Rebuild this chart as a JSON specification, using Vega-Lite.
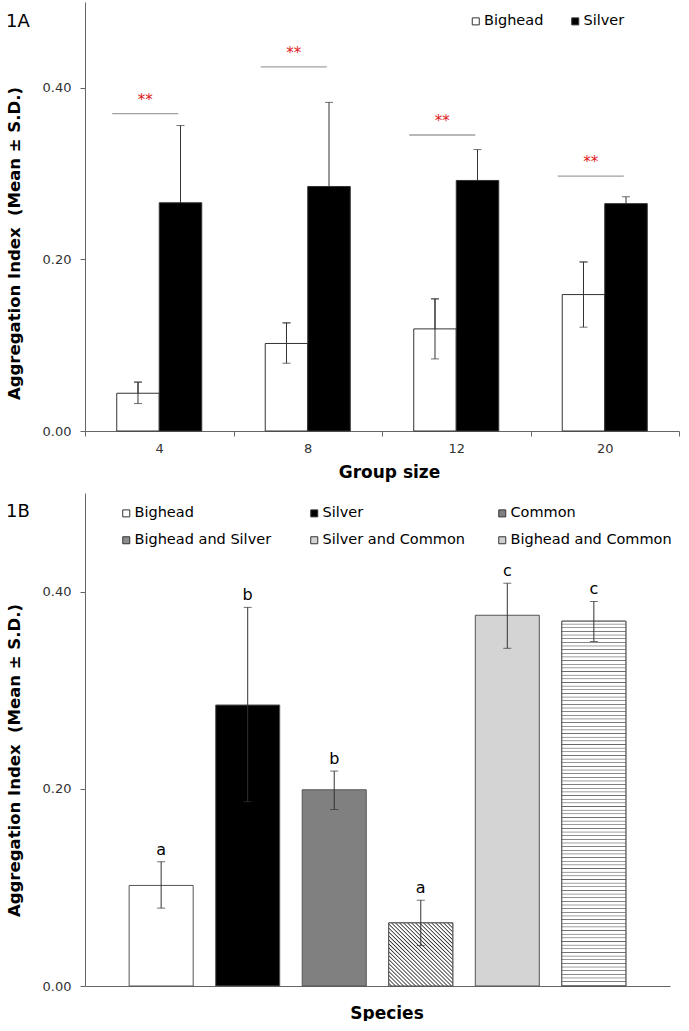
{
"$schema":"https://vega.github.io/schema/vega-lite/v6.json",
"background":"white",
"padding":{"left":6,"top":2,"right":0,"bottom":0},
"config":{"view":{"stroke":null},"font":"DejaVu Sans",
 "axis":{"grid":false,"labelFont":"DejaVu Sans","labelFontSize":13,"labelColor":"#333","titleFont":"DejaVu Sans","titleFontWeight":"bold","titleColor":"#000","domainColor":"#666","tickColor":"#666","domainWidth":1,"tickWidth":1},
 "legend":{"labelFont":"DejaVu Sans","labelFontSize":14.5,"labelColor":"#000","labelLimit":300,"symbolType":"square","symbolSize":49,"symbolStrokeColor":"#333","symbolStrokeWidth":1,"labelOffset":1,"padding":0},
 "title":{"font":"DejaVu Sans","fontWeight":"normal","color":"#000","fontSize":18}},
"datasets":{
 "groups":[
  {"group":4,"species":"Bighead","mean":0.044,"lo":0.032,"hi":0.057},
  {"group":4,"species":"Silver","mean":0.266,"lo":0.176,"hi":0.356},
  {"group":8,"species":"Bighead","mean":0.102,"lo":0.079,"hi":0.126},
  {"group":8,"species":"Silver","mean":0.285,"lo":0.187,"hi":0.383},
  {"group":12,"species":"Bighead","mean":0.119,"lo":0.084,"hi":0.154},
  {"group":12,"species":"Silver","mean":0.292,"lo":0.256,"hi":0.328},
  {"group":20,"species":"Bighead","mean":0.159,"lo":0.121,"hi":0.197},
  {"group":20,"species":"Silver","mean":0.265,"lo":0.257,"hi":0.273}
 ],
 "sig":[
  {"group":4,"y":0.370,"label":"**"},
  {"group":8,"y":0.4245,"label":"**"},
  {"group":12,"y":0.345,"label":"**"},
  {"group":20,"y":0.297,"label":"**"}
 ],
 "species":[
  {"species":"Bighead","mean":0.102,"lo":0.079,"hi":0.126,"letter":"a"},
  {"species":"Silver","mean":0.285,"lo":0.187,"hi":0.384,"letter":"b"},
  {"species":"Common","mean":0.199,"lo":0.179,"hi":0.218,"letter":"b"},
  {"species":"Bighead and Silver","mean":0.064,"lo":0.041,"hi":0.087,"letter":"a"},
  {"species":"Silver and Common","mean":0.376,"lo":0.3425,"hi":0.4085,"letter":"c"},
  {"species":"Bighead and Common","mean":0.370,"lo":0.3495,"hi":0.390,"letter":"c"}
 ]
},
"concat":[
 {
  "width":594,"height":429,
  "title":{"text":"1A","anchor":"start","frame":"bounds","offset":-43,"baseline":"alphabetic"},
  "encoding":{
   "x":{"field":"group","type":"ordinal","scale":{"domain":[4,8,12,20],"paddingInner":0,"paddingOuter":0},
    "axis":{"title":"Group size","labelAngle":0,"tickBand":"extent","tickSize":5,"labelPadding":6,"titlePadding":9,"titleFontSize":17,"titleX":304}}
  },
  "layer":[
   {"data":{"name":"groups"},"mark":{"type":"rule","color":"#333","strokeWidth":1},
    "encoding":{
     "xOffset":{"field":"species","type":"nominal","scale":{"domain":["Bighead","Silver"],"paddingInner":0,"paddingOuter":0.747}},
     "y":{"field":"lo","type":"quantitative","scale":{"domain":[0,0.5],"nice":false},
      "axis":{"title":"Aggregation Index \u00a0(Mean ± S.D.)","values":[0,0.2,0.4],"format":".2f","tickSize":5,"labelPadding":9,"titlePadding":20,"titleFontSize":16.5,"titleY":241}},
     "y2":{"field":"hi"}}},
   {"data":{"name":"groups"},"mark":{"type":"tick","orient":"horizontal","color":"#333","size":8,"thickness":1},
    "encoding":{
     "xOffset":{"field":"species","type":"nominal","scale":{"domain":["Bighead","Silver"],"paddingInner":0,"paddingOuter":0.747}},
     "y":{"field":"hi","type":"quantitative","scale":{"domain":[0,0.5],"nice":false},
      "axis":{"title":"Aggregation Index \u00a0(Mean ± S.D.)","values":[0,0.2,0.4],"format":".2f","tickSize":5,"labelPadding":9,"titlePadding":20,"titleFontSize":16.5,"titleY":241}}}},
   {"data":{"name":"groups"},"mark":{"type":"bar","stroke":"#333","strokeWidth":1},
    "encoding":{
     "xOffset":{"field":"species","type":"nominal","scale":{"domain":["Bighead","Silver"],"paddingInner":0,"paddingOuter":0.747}},
     "y":{"field":"mean","type":"quantitative","scale":{"domain":[0,0.5],"nice":false},
      "axis":{"title":"Aggregation Index \u00a0(Mean ± S.D.)","values":[0,0.2,0.4],"format":".2f","tickSize":5,"labelPadding":9,"titlePadding":20,"titleFontSize":16.5,"titleY":241}},
     "fill":{"field":"species","type":"nominal","scale":{"domain":["Bighead","Silver"],"range":["#ffffff","#000000"]},
      "legend":{"title":null,"orient":"none","legendX":383.5,"legendY":12,"direction":"horizontal","columns":2,"columnPadding":24.5}}}},
   {"data":{"name":"groups"},"transform":[{"filter":"datum.species === 'Bighead'"}],"mark":{"type":"rule","color":"#333","strokeWidth":1},
    "encoding":{
     "xOffset":{"field":"species","type":"nominal","scale":{"domain":["Bighead","Silver"],"paddingInner":0,"paddingOuter":0.747}},
     "y":{"field":"lo","type":"quantitative","scale":{"domain":[0,0.5],"nice":false},
      "axis":{"title":"Aggregation Index \u00a0(Mean ± S.D.)","values":[0,0.2,0.4],"format":".2f","tickSize":5,"labelPadding":9,"titlePadding":20,"titleFontSize":16.5,"titleY":241}},
     "y2":{"field":"hi"}}},
   {"data":{"name":"groups"},"transform":[{"filter":"datum.species === 'Bighead'"}],"mark":{"type":"tick","orient":"horizontal","color":"#333","size":8,"thickness":1},
    "encoding":{
     "xOffset":{"field":"species","type":"nominal","scale":{"domain":["Bighead","Silver"],"paddingInner":0,"paddingOuter":0.747}},
     "y":{"field":"hi","type":"quantitative","scale":{"domain":[0,0.5],"nice":false},
      "axis":{"title":"Aggregation Index \u00a0(Mean ± S.D.)","values":[0,0.2,0.4],"format":".2f","tickSize":5,"labelPadding":9,"titlePadding":20,"titleFontSize":16.5,"titleY":241}}}},
   {"data":{"name":"groups"},"transform":[{"filter":"datum.species === 'Bighead'"}],"mark":{"type":"tick","orient":"horizontal","color":"#333","size":8,"thickness":1},
    "encoding":{
     "xOffset":{"field":"species","type":"nominal","scale":{"domain":["Bighead","Silver"],"paddingInner":0,"paddingOuter":0.747}},
     "y":{"field":"lo","type":"quantitative","scale":{"domain":[0,0.5],"nice":false},
      "axis":{"title":"Aggregation Index \u00a0(Mean ± S.D.)","values":[0,0.2,0.4],"format":".2f","tickSize":5,"labelPadding":9,"titlePadding":20,"titleFontSize":16.5,"titleY":241}}}},
   {"data":{"name":"sig"},"mark":{"type":"tick","orient":"horizontal","size":66,"thickness":1.3,"color":"#777","xOffset":-14},
    "encoding":{
     "y":{"field":"y","type":"quantitative","scale":{"domain":[0,0.5],"nice":false},
      "axis":{"title":"Aggregation Index \u00a0(Mean ± S.D.)","values":[0,0.2,0.4],"format":".2f","tickSize":5,"labelPadding":9,"titlePadding":20,"titleFontSize":16.5,"titleY":241}}}},
   {"data":{"name":"sig"},"mark":{"type":"text","color":"#e02020","fontSize":15,"baseline":"alphabetic","dy":-9,"xOffset":-14},
    "encoding":{
     "y":{"field":"y","type":"quantitative","scale":{"domain":[0,0.5],"nice":false},
      "axis":{"title":"Aggregation Index \u00a0(Mean ± S.D.)","values":[0,0.2,0.4],"format":".2f","tickSize":5,"labelPadding":9,"titlePadding":20,"titleFontSize":16.5,"titleY":241}},
     "text":{"field":"label"}}}
  ]
 },
 {
  "width":585,"height":493,
  "title":{"text":"1B","anchor":"start","frame":"bounds","offset":-42,"baseline":"alphabetic"},
  "encoding":{
   "x":{"field":"species","type":"nominal","scale":{"domain":["Bighead","Silver","Common","Bighead and Silver","Silver and Common","Bighead and Common"],"paddingInner":0.26,"paddingOuter":0.51},
    "axis":{"title":"Species","labels":false,"ticks":false,"titleFontSize":17,"titlePadding":19,"titleX":301.5}}
  },
  "layer":[
   {"data":{"name":"species"},"mark":{"type":"bar","stroke":"#555","strokeWidth":1},
    "encoding":{
     "y":{"field":"mean","type":"quantitative","scale":{"domain":[0,0.5],"nice":false},
      "axis":{"title":"Aggregation Index \u00a0(Mean ± S.D.)","values":[0,0.2,0.4],"format":".2f","tickSize":5,"labelPadding":9,"titlePadding":20,"titleFontSize":16.5,"titleY":267}},
     "fill":{"field":"species","type":"nominal","scale":{"domain":["Bighead","Silver","Common","Bighead and Silver","Silver and Common","Bighead and Common"],"range":["#ffffff","#000000","#808080","#8c8c8c","#d4d4d4","#d0d0d0"]},
      "legend":{"title":null,"orient":"none","legendX":34,"legendY":13,"direction":"horizontal","columns":3,"gridAlign":"all","columnPadding":11,"rowPadding":12}}}},
   {"data":{"name":"species"},"transform":[{"filter":"datum.species === 'Bighead and Silver'"}],
    "mark":{"type":"bar","stroke":"#555","strokeWidth":1,"fill":{"gradient":"linear","x1":0,"y1":1,"x2":1,"y2":0,"stops":[
{"offset":0,"color":"#fff"},
{"offset":0.0125,"color":"#fff"},{"offset":0.022,"color":"#333"},{"offset":0.03125,"color":"#fff"},
{"offset":0.04375,"color":"#fff"},{"offset":0.05325,"color":"#333"},{"offset":0.0625,"color":"#fff"},
{"offset":0.075,"color":"#fff"},{"offset":0.0845,"color":"#333"},{"offset":0.09375,"color":"#fff"},
{"offset":0.10625,"color":"#fff"},{"offset":0.11575,"color":"#333"},{"offset":0.125,"color":"#fff"},
{"offset":0.1375,"color":"#fff"},{"offset":0.147,"color":"#333"},{"offset":0.15625,"color":"#fff"},
{"offset":0.16875,"color":"#fff"},{"offset":0.17825,"color":"#333"},{"offset":0.1875,"color":"#fff"},
{"offset":0.2,"color":"#fff"},{"offset":0.2095,"color":"#333"},{"offset":0.21875,"color":"#fff"},
{"offset":0.23125,"color":"#fff"},{"offset":0.24075,"color":"#333"},{"offset":0.25,"color":"#fff"},
{"offset":0.2625,"color":"#fff"},{"offset":0.272,"color":"#333"},{"offset":0.28125,"color":"#fff"},
{"offset":0.29375,"color":"#fff"},{"offset":0.30325,"color":"#333"},{"offset":0.3125,"color":"#fff"},
{"offset":0.325,"color":"#fff"},{"offset":0.3345,"color":"#333"},{"offset":0.34375,"color":"#fff"},
{"offset":0.35625,"color":"#fff"},{"offset":0.36575,"color":"#333"},{"offset":0.375,"color":"#fff"},
{"offset":0.3875,"color":"#fff"},{"offset":0.397,"color":"#333"},{"offset":0.40625,"color":"#fff"},
{"offset":0.41875,"color":"#fff"},{"offset":0.42825,"color":"#333"},{"offset":0.4375,"color":"#fff"},
{"offset":0.45,"color":"#fff"},{"offset":0.4595,"color":"#333"},{"offset":0.46875,"color":"#fff"},
{"offset":0.48125,"color":"#fff"},{"offset":0.49075,"color":"#333"},{"offset":0.5,"color":"#fff"},
{"offset":0.5125,"color":"#fff"},{"offset":0.522,"color":"#333"},{"offset":0.53125,"color":"#fff"},
{"offset":0.54375,"color":"#fff"},{"offset":0.55325,"color":"#333"},{"offset":0.5625,"color":"#fff"},
{"offset":0.575,"color":"#fff"},{"offset":0.5845,"color":"#333"},{"offset":0.59375,"color":"#fff"},
{"offset":0.60625,"color":"#fff"},{"offset":0.61575,"color":"#333"},{"offset":0.625,"color":"#fff"},
{"offset":0.6375,"color":"#fff"},{"offset":0.647,"color":"#333"},{"offset":0.65625,"color":"#fff"},
{"offset":0.66875,"color":"#fff"},{"offset":0.67825,"color":"#333"},{"offset":0.6875,"color":"#fff"},
{"offset":0.7,"color":"#fff"},{"offset":0.7095,"color":"#333"},{"offset":0.71875,"color":"#fff"},
{"offset":0.73125,"color":"#fff"},{"offset":0.74075,"color":"#333"},{"offset":0.75,"color":"#fff"},
{"offset":0.7625,"color":"#fff"},{"offset":0.772,"color":"#333"},{"offset":0.78125,"color":"#fff"},
{"offset":0.79375,"color":"#fff"},{"offset":0.80325,"color":"#333"},{"offset":0.8125,"color":"#fff"},
{"offset":0.825,"color":"#fff"},{"offset":0.8345,"color":"#333"},{"offset":0.84375,"color":"#fff"},
{"offset":0.85625,"color":"#fff"},{"offset":0.86575,"color":"#333"},{"offset":0.875,"color":"#fff"},
{"offset":0.8875,"color":"#fff"},{"offset":0.897,"color":"#333"},{"offset":0.90625,"color":"#fff"},
{"offset":0.91875,"color":"#fff"},{"offset":0.92825,"color":"#333"},{"offset":0.9375,"color":"#fff"},
{"offset":0.95,"color":"#fff"},{"offset":0.9595,"color":"#333"},{"offset":0.96875,"color":"#fff"},
{"offset":0.98125,"color":"#fff"},{"offset":0.99075,"color":"#333"},{"offset":1,"color":"#fff"}
]}},
    "encoding":{
     "y":{"field":"mean","type":"quantitative","scale":{"domain":[0,0.5],"nice":false},
      "axis":{"title":"Aggregation Index \u00a0(Mean ± S.D.)","values":[0,0.2,0.4],"format":".2f","tickSize":5,"labelPadding":9,"titlePadding":20,"titleFontSize":16.5,"titleY":267}}}},
   {"data":{"name":"species"},"transform":[{"filter":"datum.species === 'Bighead and Common'"}],
    "mark":{"type":"bar","stroke":"#555","strokeWidth":1,"fill":{"gradient":"linear","x1":0,"y1":0,"x2":0,"y2":1,"stops":[
{"offset":0,"color":"#fff"},
{"offset":0.006,"color":"#fff"},{"offset":0.008,"color":"#666"},{"offset":0.01,"color":"#fff"},
{"offset":0.016,"color":"#fff"},{"offset":0.018,"color":"#666"},{"offset":0.02,"color":"#fff"},
{"offset":0.026,"color":"#fff"},{"offset":0.028,"color":"#666"},{"offset":0.03,"color":"#fff"},
{"offset":0.036,"color":"#fff"},{"offset":0.038,"color":"#666"},{"offset":0.04,"color":"#fff"},
{"offset":0.046,"color":"#fff"},{"offset":0.048,"color":"#666"},{"offset":0.05,"color":"#fff"},
{"offset":0.056,"color":"#fff"},{"offset":0.058,"color":"#666"},{"offset":0.06,"color":"#fff"},
{"offset":0.066,"color":"#fff"},{"offset":0.068,"color":"#666"},{"offset":0.07,"color":"#fff"},
{"offset":0.076,"color":"#fff"},{"offset":0.078,"color":"#666"},{"offset":0.08,"color":"#fff"},
{"offset":0.086,"color":"#fff"},{"offset":0.088,"color":"#666"},{"offset":0.09,"color":"#fff"},
{"offset":0.096,"color":"#fff"},{"offset":0.098,"color":"#666"},{"offset":0.1,"color":"#fff"},
{"offset":0.106,"color":"#fff"},{"offset":0.108,"color":"#666"},{"offset":0.11,"color":"#fff"},
{"offset":0.116,"color":"#fff"},{"offset":0.118,"color":"#666"},{"offset":0.12,"color":"#fff"},
{"offset":0.126,"color":"#fff"},{"offset":0.128,"color":"#666"},{"offset":0.13,"color":"#fff"},
{"offset":0.136,"color":"#fff"},{"offset":0.138,"color":"#666"},{"offset":0.14,"color":"#fff"},
{"offset":0.146,"color":"#fff"},{"offset":0.148,"color":"#666"},{"offset":0.15,"color":"#fff"},
{"offset":0.156,"color":"#fff"},{"offset":0.158,"color":"#666"},{"offset":0.16,"color":"#fff"},
{"offset":0.166,"color":"#fff"},{"offset":0.168,"color":"#666"},{"offset":0.17,"color":"#fff"},
{"offset":0.176,"color":"#fff"},{"offset":0.178,"color":"#666"},{"offset":0.18,"color":"#fff"},
{"offset":0.186,"color":"#fff"},{"offset":0.188,"color":"#666"},{"offset":0.19,"color":"#fff"},
{"offset":0.196,"color":"#fff"},{"offset":0.198,"color":"#666"},{"offset":0.2,"color":"#fff"},
{"offset":0.206,"color":"#fff"},{"offset":0.208,"color":"#666"},{"offset":0.21,"color":"#fff"},
{"offset":0.216,"color":"#fff"},{"offset":0.218,"color":"#666"},{"offset":0.22,"color":"#fff"},
{"offset":0.226,"color":"#fff"},{"offset":0.228,"color":"#666"},{"offset":0.23,"color":"#fff"},
{"offset":0.236,"color":"#fff"},{"offset":0.238,"color":"#666"},{"offset":0.24,"color":"#fff"},
{"offset":0.246,"color":"#fff"},{"offset":0.248,"color":"#666"},{"offset":0.25,"color":"#fff"},
{"offset":0.256,"color":"#fff"},{"offset":0.258,"color":"#666"},{"offset":0.26,"color":"#fff"},
{"offset":0.266,"color":"#fff"},{"offset":0.268,"color":"#666"},{"offset":0.27,"color":"#fff"},
{"offset":0.276,"color":"#fff"},{"offset":0.278,"color":"#666"},{"offset":0.28,"color":"#fff"},
{"offset":0.286,"color":"#fff"},{"offset":0.288,"color":"#666"},{"offset":0.29,"color":"#fff"},
{"offset":0.296,"color":"#fff"},{"offset":0.298,"color":"#666"},{"offset":0.3,"color":"#fff"},
{"offset":0.306,"color":"#fff"},{"offset":0.308,"color":"#666"},{"offset":0.31,"color":"#fff"},
{"offset":0.316,"color":"#fff"},{"offset":0.318,"color":"#666"},{"offset":0.32,"color":"#fff"},
{"offset":0.326,"color":"#fff"},{"offset":0.328,"color":"#666"},{"offset":0.33,"color":"#fff"},
{"offset":0.336,"color":"#fff"},{"offset":0.338,"color":"#666"},{"offset":0.34,"color":"#fff"},
{"offset":0.346,"color":"#fff"},{"offset":0.348,"color":"#666"},{"offset":0.35,"color":"#fff"},
{"offset":0.356,"color":"#fff"},{"offset":0.358,"color":"#666"},{"offset":0.36,"color":"#fff"},
{"offset":0.366,"color":"#fff"},{"offset":0.368,"color":"#666"},{"offset":0.37,"color":"#fff"},
{"offset":0.376,"color":"#fff"},{"offset":0.378,"color":"#666"},{"offset":0.38,"color":"#fff"},
{"offset":0.386,"color":"#fff"},{"offset":0.388,"color":"#666"},{"offset":0.39,"color":"#fff"},
{"offset":0.396,"color":"#fff"},{"offset":0.398,"color":"#666"},{"offset":0.4,"color":"#fff"},
{"offset":0.406,"color":"#fff"},{"offset":0.408,"color":"#666"},{"offset":0.41,"color":"#fff"},
{"offset":0.416,"color":"#fff"},{"offset":0.418,"color":"#666"},{"offset":0.42,"color":"#fff"},
{"offset":0.426,"color":"#fff"},{"offset":0.428,"color":"#666"},{"offset":0.43,"color":"#fff"},
{"offset":0.436,"color":"#fff"},{"offset":0.438,"color":"#666"},{"offset":0.44,"color":"#fff"},
{"offset":0.446,"color":"#fff"},{"offset":0.448,"color":"#666"},{"offset":0.45,"color":"#fff"},
{"offset":0.456,"color":"#fff"},{"offset":0.458,"color":"#666"},{"offset":0.46,"color":"#fff"},
{"offset":0.466,"color":"#fff"},{"offset":0.468,"color":"#666"},{"offset":0.47,"color":"#fff"},
{"offset":0.476,"color":"#fff"},{"offset":0.478,"color":"#666"},{"offset":0.48,"color":"#fff"},
{"offset":0.486,"color":"#fff"},{"offset":0.488,"color":"#666"},{"offset":0.49,"color":"#fff"},
{"offset":0.496,"color":"#fff"},{"offset":0.498,"color":"#666"},{"offset":0.5,"color":"#fff"},
{"offset":0.506,"color":"#fff"},{"offset":0.508,"color":"#666"},{"offset":0.51,"color":"#fff"},
{"offset":0.516,"color":"#fff"},{"offset":0.518,"color":"#666"},{"offset":0.52,"color":"#fff"},
{"offset":0.526,"color":"#fff"},{"offset":0.528,"color":"#666"},{"offset":0.53,"color":"#fff"},
{"offset":0.536,"color":"#fff"},{"offset":0.538,"color":"#666"},{"offset":0.54,"color":"#fff"},
{"offset":0.546,"color":"#fff"},{"offset":0.548,"color":"#666"},{"offset":0.55,"color":"#fff"},
{"offset":0.556,"color":"#fff"},{"offset":0.558,"color":"#666"},{"offset":0.56,"color":"#fff"},
{"offset":0.566,"color":"#fff"},{"offset":0.568,"color":"#666"},{"offset":0.57,"color":"#fff"},
{"offset":0.576,"color":"#fff"},{"offset":0.578,"color":"#666"},{"offset":0.58,"color":"#fff"},
{"offset":0.586,"color":"#fff"},{"offset":0.588,"color":"#666"},{"offset":0.59,"color":"#fff"},
{"offset":0.596,"color":"#fff"},{"offset":0.598,"color":"#666"},{"offset":0.6,"color":"#fff"},
{"offset":0.606,"color":"#fff"},{"offset":0.608,"color":"#666"},{"offset":0.61,"color":"#fff"},
{"offset":0.616,"color":"#fff"},{"offset":0.618,"color":"#666"},{"offset":0.62,"color":"#fff"},
{"offset":0.626,"color":"#fff"},{"offset":0.628,"color":"#666"},{"offset":0.63,"color":"#fff"},
{"offset":0.636,"color":"#fff"},{"offset":0.638,"color":"#666"},{"offset":0.64,"color":"#fff"},
{"offset":0.646,"color":"#fff"},{"offset":0.648,"color":"#666"},{"offset":0.65,"color":"#fff"},
{"offset":0.656,"color":"#fff"},{"offset":0.658,"color":"#666"},{"offset":0.66,"color":"#fff"},
{"offset":0.666,"color":"#fff"},{"offset":0.668,"color":"#666"},{"offset":0.67,"color":"#fff"},
{"offset":0.676,"color":"#fff"},{"offset":0.678,"color":"#666"},{"offset":0.68,"color":"#fff"},
{"offset":0.686,"color":"#fff"},{"offset":0.688,"color":"#666"},{"offset":0.69,"color":"#fff"},
{"offset":0.696,"color":"#fff"},{"offset":0.698,"color":"#666"},{"offset":0.7,"color":"#fff"},
{"offset":0.706,"color":"#fff"},{"offset":0.708,"color":"#666"},{"offset":0.71,"color":"#fff"},
{"offset":0.716,"color":"#fff"},{"offset":0.718,"color":"#666"},{"offset":0.72,"color":"#fff"},
{"offset":0.726,"color":"#fff"},{"offset":0.728,"color":"#666"},{"offset":0.73,"color":"#fff"},
{"offset":0.736,"color":"#fff"},{"offset":0.738,"color":"#666"},{"offset":0.74,"color":"#fff"},
{"offset":0.746,"color":"#fff"},{"offset":0.748,"color":"#666"},{"offset":0.75,"color":"#fff"},
{"offset":0.756,"color":"#fff"},{"offset":0.758,"color":"#666"},{"offset":0.76,"color":"#fff"},
{"offset":0.766,"color":"#fff"},{"offset":0.768,"color":"#666"},{"offset":0.77,"color":"#fff"},
{"offset":0.776,"color":"#fff"},{"offset":0.778,"color":"#666"},{"offset":0.78,"color":"#fff"},
{"offset":0.786,"color":"#fff"},{"offset":0.788,"color":"#666"},{"offset":0.79,"color":"#fff"},
{"offset":0.796,"color":"#fff"},{"offset":0.798,"color":"#666"},{"offset":0.8,"color":"#fff"},
{"offset":0.806,"color":"#fff"},{"offset":0.808,"color":"#666"},{"offset":0.81,"color":"#fff"},
{"offset":0.816,"color":"#fff"},{"offset":0.818,"color":"#666"},{"offset":0.82,"color":"#fff"},
{"offset":0.826,"color":"#fff"},{"offset":0.828,"color":"#666"},{"offset":0.83,"color":"#fff"},
{"offset":0.836,"color":"#fff"},{"offset":0.838,"color":"#666"},{"offset":0.84,"color":"#fff"},
{"offset":0.846,"color":"#fff"},{"offset":0.848,"color":"#666"},{"offset":0.85,"color":"#fff"},
{"offset":0.856,"color":"#fff"},{"offset":0.858,"color":"#666"},{"offset":0.86,"color":"#fff"},
{"offset":0.866,"color":"#fff"},{"offset":0.868,"color":"#666"},{"offset":0.87,"color":"#fff"},
{"offset":0.876,"color":"#fff"},{"offset":0.878,"color":"#666"},{"offset":0.88,"color":"#fff"},
{"offset":0.886,"color":"#fff"},{"offset":0.888,"color":"#666"},{"offset":0.89,"color":"#fff"},
{"offset":0.896,"color":"#fff"},{"offset":0.898,"color":"#666"},{"offset":0.9,"color":"#fff"},
{"offset":0.906,"color":"#fff"},{"offset":0.908,"color":"#666"},{"offset":0.91,"color":"#fff"},
{"offset":0.916,"color":"#fff"},{"offset":0.918,"color":"#666"},{"offset":0.92,"color":"#fff"},
{"offset":0.926,"color":"#fff"},{"offset":0.928,"color":"#666"},{"offset":0.93,"color":"#fff"},
{"offset":0.936,"color":"#fff"},{"offset":0.938,"color":"#666"},{"offset":0.94,"color":"#fff"},
{"offset":0.946,"color":"#fff"},{"offset":0.948,"color":"#666"},{"offset":0.95,"color":"#fff"},
{"offset":0.956,"color":"#fff"},{"offset":0.958,"color":"#666"},{"offset":0.96,"color":"#fff"},
{"offset":0.966,"color":"#fff"},{"offset":0.968,"color":"#666"},{"offset":0.97,"color":"#fff"},
{"offset":0.976,"color":"#fff"},{"offset":0.978,"color":"#666"},{"offset":0.98,"color":"#fff"},
{"offset":0.986,"color":"#fff"},{"offset":0.988,"color":"#666"},{"offset":0.99,"color":"#fff"},
{"offset":0.996,"color":"#fff"},{"offset":0.998,"color":"#666"},{"offset":1,"color":"#fff"}
]}},
    "encoding":{
     "y":{"field":"mean","type":"quantitative","scale":{"domain":[0,0.5],"nice":false},
      "axis":{"title":"Aggregation Index \u00a0(Mean ± S.D.)","values":[0,0.2,0.4],"format":".2f","tickSize":5,"labelPadding":9,"titlePadding":20,"titleFontSize":16.5,"titleY":267}}}},
   {"data":{"name":"species"},"mark":{"type":"rule","color":"#333","strokeWidth":1},
    "encoding":{
     "y":{"field":"lo","type":"quantitative","scale":{"domain":[0,0.5],"nice":false},
      "axis":{"title":"Aggregation Index \u00a0(Mean ± S.D.)","values":[0,0.2,0.4],"format":".2f","tickSize":5,"labelPadding":9,"titlePadding":20,"titleFontSize":16.5,"titleY":267}},
     "y2":{"field":"hi"}}},
   {"data":{"name":"species"},"mark":{"type":"tick","orient":"horizontal","color":"#333","size":8,"thickness":1},
    "encoding":{
     "y":{"field":"hi","type":"quantitative","scale":{"domain":[0,0.5],"nice":false},
      "axis":{"title":"Aggregation Index \u00a0(Mean ± S.D.)","values":[0,0.2,0.4],"format":".2f","tickSize":5,"labelPadding":9,"titlePadding":20,"titleFontSize":16.5,"titleY":267}}}},
   {"data":{"name":"species"},"mark":{"type":"tick","orient":"horizontal","color":"#333","size":8,"thickness":1},
    "encoding":{
     "y":{"field":"lo","type":"quantitative","scale":{"domain":[0,0.5],"nice":false},
      "axis":{"title":"Aggregation Index \u00a0(Mean ± S.D.)","values":[0,0.2,0.4],"format":".2f","tickSize":5,"labelPadding":9,"titlePadding":20,"titleFontSize":16.5,"titleY":267}}}},
   {"data":{"name":"species"},"mark":{"type":"text","fontSize":16,"baseline":"alphabetic","dy":-7,"color":"#000"},
    "encoding":{
     "y":{"field":"hi","type":"quantitative","scale":{"domain":[0,0.5],"nice":false},
      "axis":{"title":"Aggregation Index \u00a0(Mean ± S.D.)","values":[0,0.2,0.4],"format":".2f","tickSize":5,"labelPadding":9,"titlePadding":20,"titleFontSize":16.5,"titleY":267}},
     "text":{"field":"letter"}}}
  ]
 }
],
"columns":1,
"align":"none",
"spacing":13,
"resolve":{"scale":{"x":"independent","y":"independent","fill":"independent","xOffset":"independent"},"legend":{"fill":"independent"}}
}
